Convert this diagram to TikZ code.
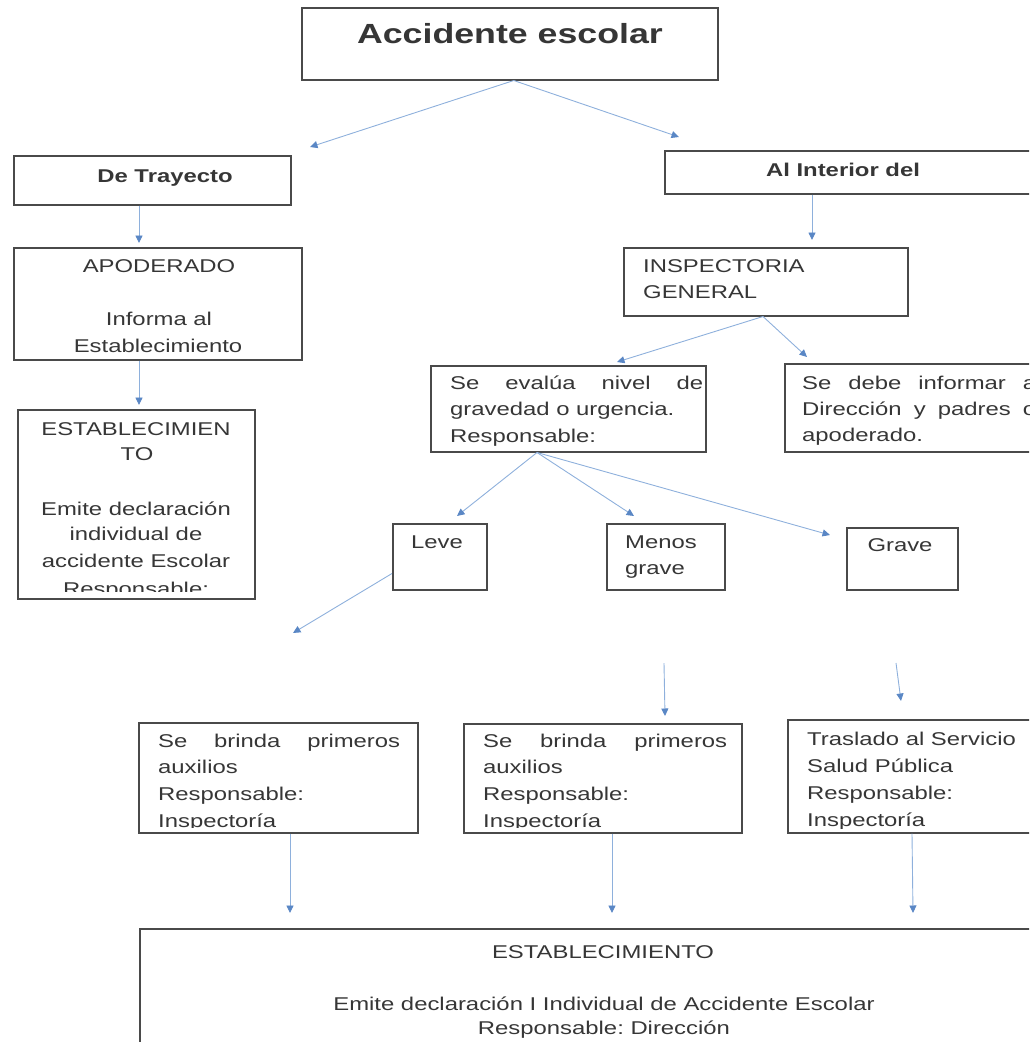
\documentclass[tikz,border=0pt]{standalone}
\usepackage{fontspec}
\setmainfont{Liberation Sans}[FakeStretch=1.29]
\usetikzlibrary{arrows.meta}
\definecolor{txtc}{HTML}{363636}
\definecolor{boxc}{HTML}{4A4A4A}
\definecolor{arrc}{HTML}{8EB0DC}
\definecolor{tipc}{HTML}{5A87C5}
\frenchspacing
\begin{document}
\begin{tikzpicture}[x=1pt,y=-1pt,
  box/.style={draw=boxc, line width=1.5pt, rectangle, inner sep=0pt, anchor=north west},
  txt/.style={text=txtc, inner sep=0pt, font=\fontsize{18.5}{26.5}\selectfont},
  btxt/.style={txt, font=\bfseries\fontsize{18.5}{26.5}\selectfont},
  arr/.style={draw=arrc, line width=0.9pt, -{Triangle[length=7.5pt,width=7pt,color=tipc]}}]
\useasboundingbox (0,0) rectangle (1029,1042);
\clip (0,0) rectangle (1029,1042);

% ---------- texts (clipped inside their boxes where needed) ----------
\node[txt, anchor=base, font=\bfseries\fontsize{27.7}{32}\selectfont] (tTitle) at (510,43) {Accidente escolar};
\node[btxt, anchor=base] (tTray) at (165,182) {De Trayecto};
\node[btxt, anchor=base] (tInter) at (843,176) {Al Interior del};

\node[txt, anchor=base] (tAp1) at (159,272) {APODERADO};
\node[txt, anchor=base] (tAp2) at (159,325) {Informa al};
\node[txt, anchor=base] (tAp3) at (158,352) {Establecimiento};

\node[txt, anchor=base west] (tIn1) at (643,272) {INSPECTORIA};
\node[txt, anchor=base west] (tIn2) at (643,298) {GENERAL};

\node[txt, anchor=base west] (tEv1) at (450,389) {\makebox[253pt][s]{Se evalúa nivel de}};
\node[txt, anchor=base west] (tEv2) at (450,415) {gravedad o urgencia.};
\node[txt, anchor=base west] (tEv3) at (450,442) {Responsable:};

\node[txt, anchor=base west] (tDe1) at (802,389) {\makebox[234pt][s]{Se debe informar a}};
\node[txt, anchor=base west] (tDe2) at (802,415) {\makebox[234pt][s]{Dirección y padres o}};
\node[txt, anchor=base west] (tDe3) at (802,441) {apoderado.};

\begin{scope}
\clip (17,409) rectangle (254,591);
\node[txt, anchor=base] (tEs1) at (136,435) {ESTABLECIMIEN};
\node[txt, anchor=base] (tEs2) at (137,460) {TO};
\node[txt, anchor=base] (tEs3) at (136,515) {Emite declaración};
\node[txt, anchor=base] (tEs4) at (136,540) {individual de};
\node[txt, anchor=base] (tEs5) at (136,567) {accidente Escolar};
\node[txt, anchor=base] (tEs6) at (136,595) {Responsable:};
\end{scope}

\node[txt, anchor=base] (tLeve) at (437,548) {Leve};
\node[txt, anchor=base west] (tMe1) at (625,548) {Menos};
\node[txt, anchor=base west] (tMe2) at (625,574) {grave};
\node[txt, anchor=base] (tGrave) at (900,551) {Grave};

\begin{scope}
\clip (138,722) rectangle (417,827);
\node[txt, anchor=base west] (tB11) at (158,747) {\makebox[242pt][s]{Se brinda primeros}};
\node[txt, anchor=base west] (tB12) at (158,773) {auxilios};
\node[txt, anchor=base west] (tB13) at (158,800) {Responsable:};
\node[txt, anchor=base west] (tB14) at (158,827) {Inspectoría};
\end{scope}
\begin{scope}
\clip (463,723) rectangle (741,827);
\node[txt, anchor=base west] (tB21) at (483,747) {\makebox[244pt][s]{Se brinda primeros}};
\node[txt, anchor=base west] (tB22) at (483,773) {auxilios};
\node[txt, anchor=base west] (tB23) at (483,800) {Responsable:};
\node[txt, anchor=base west] (tB24) at (483,827) {Inspectoría};
\end{scope}
\begin{scope}
\clip (787,719) rectangle (1029,828);
\node[txt, anchor=base west] (tTr1) at (807,745) {Traslado al Servicio};
\node[txt, anchor=base west] (tTr2) at (807,772) {Salud Pública};
\node[txt, anchor=base west] (tTr3) at (807,799) {Responsable:};
\node[txt, anchor=base west] (tTr4) at (807,826) {Inspectoría};
\end{scope}

\node[txt, anchor=base] (tBo1) at (603,958) {ESTABLECIMIENTO};
\node[txt, anchor=base] (tBo2) at (604,1010) {Emite declaración I Individual de Accidente Escolar};
\node[txt, anchor=base] (tBo3) at (604,1034) {Responsable: Dirección};

% ---------- boxes ----------
\node[box, minimum width=416pt, minimum height=72pt] (title) at (301,7) {};
\node[box, minimum width=277pt, minimum height=49pt] (tray) at (13,155) {};
\node[box, minimum width=400pt, minimum height=43pt] (inter) at (664,150) {};
\node[box, minimum width=288pt, minimum height=112pt] (apod) at (13,247) {};
\node[box, minimum width=284pt, minimum height=68pt] (insp) at (623,247) {};
\node[box, minimum width=275pt, minimum height=86pt] (eval) at (430,365) {};
\node[box, minimum width=300pt, minimum height=88pt] (debe) at (784,363) {};
\node[box, minimum width=237pt, minimum height=189pt] (estab) at (17,409) {};
\node[box, minimum width=94pt, minimum height=66pt] (leve) at (392,523) {};
\node[box, minimum width=118pt, minimum height=66pt] (menos) at (606,523) {};
\node[box, minimum width=111pt, minimum height=62pt] (grave) at (846,527) {};
\node[box, minimum width=279pt, minimum height=110pt] (brinda1) at (138,722) {};
\node[box, minimum width=278pt, minimum height=109pt] (brinda2) at (463,723) {};
\node[box, minimum width=300pt, minimum height=113pt] (trasl) at (787,719) {};
\node[box, minimum width=950pt, minimum height=200pt] (bot) at (139,928) {};

% ---------- connector end points ----------
\coordinate (cTray) at (310,147);
\coordinate (cInter) at (679,137);
\coordinate (cApod) at (139,243);
\coordinate (cEstab) at (139,405);
\coordinate (cInsp) at (812,240);
\coordinate (cEval) at (617,362);
\coordinate (cDebe) at (807,357);
\coordinate (cLeve) at (457,516);
\coordinate (cMenos) at (634,516);
\coordinate (cGrave) at (830,535);
\coordinate (cLeveOut) at (293,633);
\coordinate (cMenosA) at (664,663);
\coordinate (cMenosB) at (665,716);
\coordinate (cGraveA) at (896,663);
\coordinate (cGraveB) at (901,701);
\coordinate (cBot1) at (290,913);
\coordinate (cBot2) at (612,913);
\coordinate (cBot3) at (913,913);

% ---------- connectors ----------
\draw[arr] ([xshift=4pt]title.south) -- (cTray);
\draw[arr] ([xshift=4pt]title.south) -- (cInter);
\draw[arr] ([xshift=126pt]tray.south west) -- (cApod);
\draw[arr] ([xshift=126pt]apod.south west) -- (cEstab);
\draw[arr] ([xshift=148pt]inter.south west) -- (cInsp);
\draw[arr] ([xshift=140pt]insp.south west) -- (cEval);
\draw[arr] ([xshift=140pt]insp.south west) -- (cDebe);
\draw[arr] ([xshift=107pt]eval.south west) -- (cLeve);
\draw[arr] ([xshift=107pt]eval.south west) -- (cMenos);
\draw[arr] ([xshift=107pt]eval.south west) -- (cGrave);
\draw[arr] ([yshift=17pt]leve.south west) -- (cLeveOut);
\draw[arr] (cMenosA) -- (cMenosB);
\draw[arr] (cGraveA) -- (cGraveB);
\draw[arr] ([xshift=152pt]brinda1.south west) -- (cBot1);
\draw[arr] ([xshift=149pt]brinda2.south west) -- (cBot2);
\draw[arr] ([xshift=125pt]trasl.south west) -- (cBot3);
\end{tikzpicture}
\end{document}
